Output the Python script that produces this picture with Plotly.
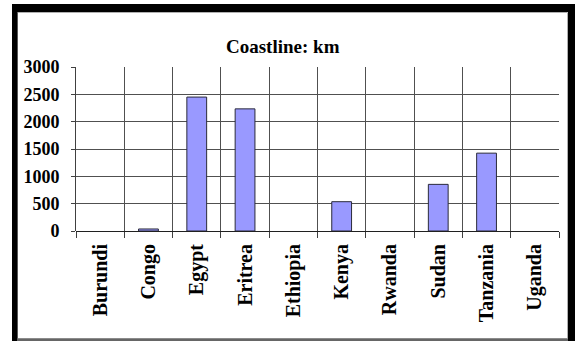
import plotly.graph_objects as go

# Coastline length per country (km)
countries = ["Burundi", "Congo", "Egypt", "Eritrea", "Ethiopia",
             "Kenya", "Rwanda", "Sudan", "Tanzania", "Uganda"]
coastline_km = [0, 37, 2450, 2234, 0, 536, 0, 853, 1424, 0]
y_ticks = [0, 500, 1000, 1500, 2000, 2500, 3000]

W, H = 575, 341
ML, MR, MT, MB = 76, 16, 67, 110
PW, PH = W - ML - MR, H - MT - MB


def px(x):
    return (x - ML) / PW


def py(y):
    return (H - MB - y) / PH


serif = "Liberation Serif, Times New Roman, serif"

fig = go.Figure(go.Bar(
    x=countries,
    y=coastline_km,
    width=0.41,
    marker=dict(
        color="#9999FF",
        # no outline for countries without a coastline
        line=dict(color="#2a2a3a", width=[1 if v > 0 else 0 for v in coastline_km]),
    ),
))

# Outer frame around the chart
frame = [
    dict(x0=px(12), x1=px(576), y0=py(4), y1=py(12), color="black"),
    dict(x0=px(12), x1=px(17.5), y0=py(4), y1=py(342), color="black"),
    dict(x0=px(568), x1=px(576), y0=py(4), y1=py(342), color="black"),
    dict(x0=px(17), x1=px(568), y0=py(338.5), y1=py(341), color="#666666"),
]
shapes = [
    dict(type="rect", xref="paper", yref="paper",
         x0=f["x0"], x1=f["x1"], y0=f["y0"], y1=f["y1"],
         fillcolor=f["color"], line=dict(width=0), layer="above")
    for f in frame
]
# faint inner edge of the frame
shapes.append(dict(type="rect", xref="paper", yref="paper",
                   x0=px(17.5), x1=px(567.5), y0=py(12.5), y1=py(338.5),
                   line=dict(color="#b0b0b0", width=1), layer="below"))

fig.update_layout(
    width=W, height=H, autosize=False,
    margin=dict(l=ML, r=MR, t=MT, b=MB, pad=0),
    paper_bgcolor="white", plot_bgcolor="white",
    showlegend=False,
    shapes=shapes,
    annotations=[dict(
        text="Coastline: km", xref="paper", yref="paper",
        x=px(283), y=py(47), xanchor="center", yanchor="middle",
        showarrow=False,
        font=dict(family=serif, size=19, color="black", weight="bold"),
    )],
    xaxis=dict(
        type="category", range=[-0.5, 9.5],
        tickson="boundaries", ticks="outside", ticklen=6,
        tickcolor="#404040", tickwidth=1,
        showgrid=True, gridcolor="#505050", gridwidth=1,
        tickangle=-90, ticklabelstandoff=8,
        tickfont=dict(family=serif, size=20, color="black", weight="bold"),
        showline=False, zeroline=False,
    ),
    yaxis=dict(
        range=[0, 3000], tickvals=y_ticks,
        ticks="outside", ticklen=4, tickcolor="#404040", tickwidth=1,
        showgrid=True, gridcolor="#505050", gridwidth=1,
        showline=True, linecolor="#404040", linewidth=1,
        zeroline=True, zerolinecolor="#202020", zerolinewidth=1,
        ticklabelstandoff=8,
        tickfont=dict(family=serif, size=18, color="black", weight="bold"),
    ),
)

fig.write_html("out.html")
